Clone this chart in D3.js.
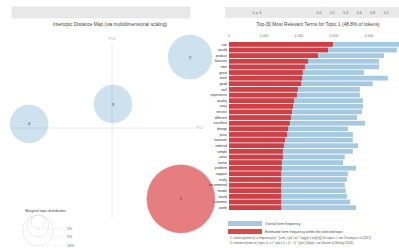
<!DOCTYPE html>
<html><head><meta charset="utf-8">
<script src="https://cdn.jsdelivr.net/npm/d3@7"></script>
<style>
body{margin:0;background:#fff;}
svg{display:block;font-family:"Liberation Sans",Arial,sans-serif;}
</style></head>
<body>
<svg id="c" width="399" height="248"></svg>
<script>
// ---- data ----
const topicIds = ["1", "2", "3", "4"];
const topicPC1 = [0.27, 0.306, 0.004, -0.325];
const topicPC2 = [-0.278, 0.278, 0.094, 0.016];
const topicSize = [48.8, 20.4, 15.2, 15.2]; // % of tokens
const selectedTopic = "1";

const terms = ["use","would","product","features","time","great","work","good","well","experience",
  "quality","easy","service","different","excellent","design","price","however","ordered","simple",
  "value","better","problem","support","really","recommend","model","found","customer","worth"];
const overallFreq = [4860,4800,4430,4290,4290,3860,4540,4110,3740,3740,
  3830,3830,3800,3660,3890,3400,3540,3540,3690,3540,
  3310,3260,3630,3400,3370,3310,3340,3370,3460,3630];
const topicFreq = [2970,2830,2540,2260,2170,2110,2090,2060,1970,1940,
  1860,1830,1800,1770,1740,1690,1660,1600,1570,1540,
  1540,1510,1510,1490,1490,1490,1490,1490,1490,1490];
const barTicks = [0, 1000, 2000, 3000, 4000];
const lambdaTicks = ["0.0","0.2","0.4","0.6","0.8","1.0"];
const sizeLegend = [2, 5, 10];

const svg = d3.select("#c");
const blue = "#1f77b4", red = "#d62728";

// ---- top control bars ----
svg.append("rect").attr("x",12).attr("y",7).attr("width",178).attr("height",11).attr("fill","#e9e9e9").attr("stroke","#dcdcdc").attr("stroke-width",0.5);
svg.append("rect").attr("x",225).attr("y",7).attr("width",174).attr("height",11).attr("fill","#e9e9e9");
svg.append("text").attr("x",257).attr("y",14).attr("font-size",4).attr("fill","#555").attr("text-anchor","middle").text("λ = 1");
const lam = d3.scalePoint().domain(lambdaTicks).range([319, 386]);
svg.selectAll(".lt").data(lambdaTicks).join("text").attr("x",d=>lam(d)).attr("y",14)
  .attr("font-size",3.5).attr("fill","#666").attr("text-anchor","middle").text(d=>d);

// ---- MDS plot ----
const x = d3.scaleLinear().domain([-0.4, 0.4]).range([10, 214]);
const y = d3.scaleLinear().domain([-0.4, 0.4]).range([230, 26]);
const rScale = d3.scaleSqrt().domain([0, 100]).range([0, 48.7]);

svg.append("text").attr("x",110).attr("y",26).attr("text-anchor","middle").attr("font-size",4.8).attr("fill","#444")
  .text("Intertopic Distance Map (via multidimensional scaling)");
svg.append("line").attr("x1",x(-0.4)).attr("x2",x(0.326)).attr("y1",y(0)).attr("y2",y(0)).attr("stroke","#e4e4e4").attr("stroke-width",0.8);
svg.append("line").attr("x1",x(0)).attr("x2",x(0)).attr("y1",y(0.33)).attr("y2",y(-0.35)).attr("stroke","#e4e4e4").attr("stroke-width",0.8);
svg.append("text").attr("x",x(0)).attr("y",y(0.345)).attr("text-anchor","middle").attr("font-size",3.5).attr("fill","#aaa").text("PC2");
svg.append("text").attr("x",x(0.33)).attr("y",y(0)+1).attr("text-anchor","start").attr("font-size",3.5).attr("fill","#aaa").text("PC1");

const tg = svg.selectAll(".topic").data(topicIds).join("g");
tg.append("circle").attr("cx",(d,i)=>x(topicPC1[i])).attr("cy",(d,i)=>y(topicPC2[i]))
  .attr("r",(d,i)=>rScale(topicSize[i]))
  .attr("fill",d=>d===selectedTopic?red:blue).attr("fill-opacity",d=>d===selectedTopic?0.6:0.22)
  .attr("stroke",d=>d===selectedTopic?"#d98080":"#c8dcec").attr("stroke-width",0.5);
tg.append("text").attr("x",(d,i)=>x(topicPC1[i])).attr("y",(d,i)=>y(topicPC2[i])+1.5)
  .attr("text-anchor","middle").attr("font-size",4).attr("fill","#333").text(d=>d);

// size legend
const lcx = 38, ltop = 215;
svg.append("text").attr("x",25).attr("y",212).attr("font-size",3.6).attr("fill","#444").text("Marginal topic distribution");
sizeLegend.forEach(p=>{
  const r = rScale(p);
  svg.append("circle").attr("cx",lcx).attr("cy",ltop+r).attr("r",r).attr("fill","none").attr("stroke","#ddd").attr("stroke-width",0.6);
  svg.append("line").attr("x1",lcx).attr("x2",66).attr("y1",ltop+2*r).attr("y2",ltop+2*r).attr("stroke","#ddd").attr("stroke-width",0.5).attr("stroke-dasharray","2,2");
  svg.append("text").attr("x",67).attr("y",ltop+2*r+1.2).attr("font-size",3.5).attr("fill","#666").text(p+"%");
});

// ---- bar chart ----
const bx = d3.scaleLinear().domain([0, 4860]).range([229, 399]);
const by = d3.scaleBand().domain(terms).range([42, 210]).paddingInner(0.16);
svg.append("text").attr("x",318).attr("y",26).attr("text-anchor","middle").attr("font-size",4.8).attr("fill","#444")
  .text("Top-30 Most Relevant Terms for Topic " + selectedTopic + " (" + topicSize[0] + "% of tokens)");
svg.selectAll(".bt").data(barTicks).join("text").attr("x",d=>bx(d)).attr("y",37).attr("text-anchor","middle")
  .attr("font-size",3.5).attr("fill","#777").text(d=>d3.format(",")(d));
svg.selectAll(".bo").data(terms).join("rect").attr("x",bx(0)).attr("y",d=>by(d))
  .attr("width",(d,i)=>bx(overallFreq[i])-bx(0)).attr("height",by.bandwidth()).attr("fill",blue).attr("fill-opacity",0.4);
svg.selectAll(".bs").data(terms).join("rect").attr("x",bx(0)).attr("y",d=>by(d))
  .attr("width",(d,i)=>bx(topicFreq[i])-bx(0)).attr("height",by.bandwidth()).attr("fill",red).attr("fill-opacity",0.85);
svg.selectAll(".tl").data(terms).join("text").attr("x",227).attr("y",d=>by(d)+by.bandwidth()/2+1.2)
  .attr("text-anchor","end").attr("font-size",3.4).attr("fill","#333").text(d=>d);

// legend & notes
svg.append("rect").attr("x",228).attr("y",221).attr("width",34).attr("height",5).attr("fill",blue).attr("fill-opacity",0.4);
svg.append("text").attr("x",265).attr("y",225).attr("font-size",3.5).attr("fill","#444").text("Overall term frequency");
svg.append("rect").attr("x",228).attr("y",229).attr("width",34).attr("height",5).attr("fill",red).attr("fill-opacity",0.85);
svg.append("text").attr("x",265).attr("y",233).attr("font-size",3.5).attr("fill","#444").text("Estimated term frequency within the selected topic");
svg.append("text").attr("x",230).attr("y",239).attr("font-size",3).attr("fill","#555")
  .text("1. saliency(term w) = frequency(w) * [sum_t p(t | w) * log(p(t | w)/p(t))] for topics t; see Chuang et. al (2012)");
svg.append("text").attr("x",230).attr("y",243.5).attr("font-size",3).attr("fill","#555")
  .text("2. relevance(term w | topic t) = λ * p(w | t) + (1 - λ) * p(w | t)/p(w); see Sievert & Shirley (2014)");
</script>
</body></html>
